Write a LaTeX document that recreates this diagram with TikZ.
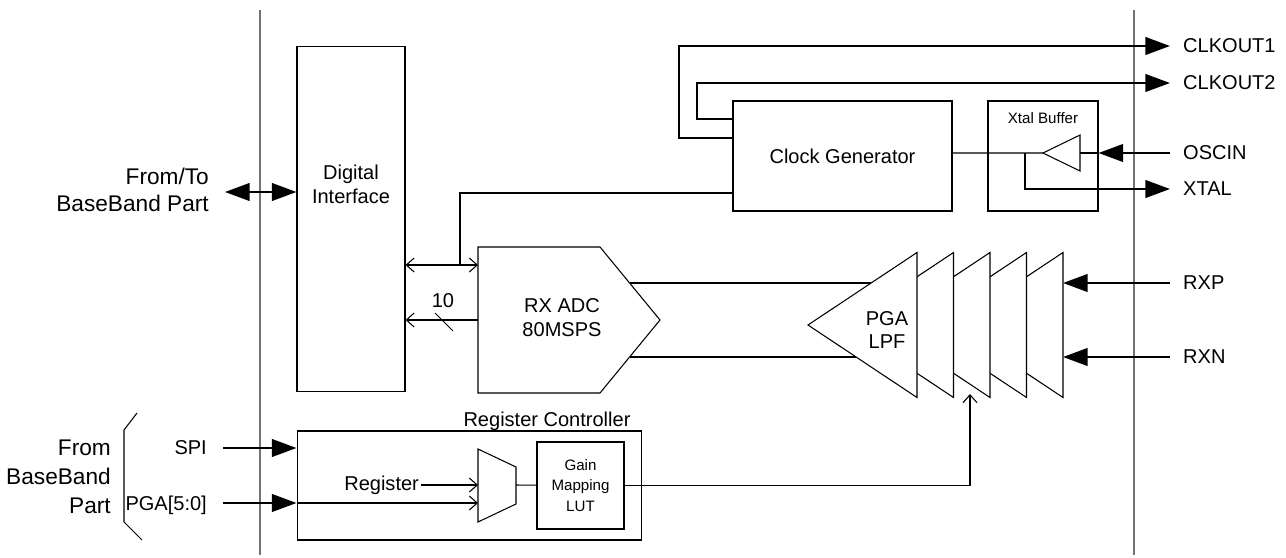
\documentclass[tikz,border=0pt]{standalone}
\usepackage{fontspec}
\setmainfont{Liberation Sans}
\usetikzlibrary{arrows.meta}

\begin{document}
\begin{tikzpicture}[x=0.02cm,y=-0.02cm,
		font=\fontsize{11.4}{13.6}\selectfont,
		wire/.style={line width=0.6pt},
		bus/.style={line width=1.3pt},
		big/.style={-{Triangle[length=14pt,width=10pt]}},
		bigb/.style={{Triangle[length=14pt,width=10pt]}-{Triangle[length=14pt,width=10pt]}},
		open/.style={-{Straight Barb[length=4.5pt,width=8pt]}},
		openb/.style={{Straight Barb[length=4.5pt,width=8pt]}-{Straight Barb[length=4.5pt,width=8pt]}},
		blk/.style={draw,line width=0.6pt,inner sep=0pt},
		small/.style={font=\fontsize{8.6}{11.5}\selectfont},
		side/.style={align=right,anchor=east,font=\fontsize{12.9}{15}\selectfont},
		border/.style={draw=black!55,line width=0.8pt}]
	\useasboundingbox (0,0) rectangle (1286,558);
	% chip borders
	\draw[border] (260,10) -- (260,555);
	\draw[border] (1134,10) -- (1134,555);

	% digital part
	\node[blk,minimum width=2.16cm,minimum height=6.92cm] (di) at (351,219) {};
	\node[align=center] (dit) at (351,184) {Digital\\Interface};
	\node[blk,minimum width=4.38cm,minimum height=2.2cm] (clk) at (842.5,156) {Clock Generator};
	\node[blk,minimum width=2.2cm,minimum height=2.2cm] (xb) at (1043,156) {};
	\node[small] (xbt) at (1043,118) {Xtal Buffer};
	\draw[wire] (1043,153) coordinate (bt) -- (1080,135) -- (1080,171) -- cycle;
	\coordinate (bin) at (1080,153);

	% adc
	\draw[wire] (478,247) -- (600,247) -- (660,320) -- (600,393) -- (478,393) -- cycle;
	\node[align=center] (adc) at (562,318) {RX ADC\\80MSPS};
	\coordinate (adcin) at (478,265);
	\coordinate (adcout) at (478,320);
	\coordinate (adcp) at (630,283);
	\coordinate (adcn) at (630,357);

	% pga / lpf stages
	\draw[wire] (adcp) -- (880,283);
	\draw[wire] (adcn) -- (880,357);
	\foreach \k in {4,...,0}
		\draw[wire,fill=white] ({808+36.5*\k},325) -- ({917+36.5*\k},252.5) -- ({917+36.5*\k},397.5) -- cycle;
	\node[align=center] (pga) at (887,330) {PGA\\LPF};
	\coordinate (pgap) at (1063,283);
	\coordinate (pgan) at (1063,357);
	\coordinate (pgac) at (970,394);

	% register controller
	\node[blk,minimum width=6.9cm,minimum height=2.18cm] (reg) at (469.5,485.5) {};
	\node (regt) at (547,421) {Register Controller};
	\draw[wire] (478,449) -- (516,467) -- (516,504) -- (478,522) -- cycle;
	\coordinate (muxa) at (478,485);
	\coordinate (muxb) at (478,503);
	\coordinate (muxo) at (516,485);
	\node[blk,small,align=center,minimum width=1.74cm,minimum height=1.74cm] (lut) at (580.5,485.5) {Gain\\Mapping\\LUT};
	\node[anchor=east,inner sep=1pt] (regin) at (421,485) {Register};

	% outside
	\node[side] (fb) at (215,190) {From/To\\BaseBand Part};
	\coordinate (fbt) at (225,192);
	\draw[wire] (137,413) -- (124,430) -- (124,522) -- (142,540);
	\node[side,font=\fontsize{12.9}{16.4}\selectfont] (frm) at (117,477) {From\\BaseBand\\Part};
	\node[anchor=east] (spi) at (213,448) {SPI};
	\node[anchor=east] (pgab) at (213,505) {PGA[5:0]};
	\coordinate (spis) at (223,448);
	\coordinate (pgas) at (223,503);
	\foreach \n/\y/\t in {co1/46/CLKOUT1,co2/83/CLKOUT2,osc/153/OSCIN,xt/189/XTAL,rxp/283/RXP,rxn/357/RXN}{
		\coordinate (\n) at (1170,\y);
		\node[anchor=west] (\n t) at (1177,\y) {\t};
	}

	% connections
	\draw[bus,bigb] (fbt) -- (fbt -| di.west);
	\draw[bus,big] ([yshift=0.36cm]clk.west) -| (679,46) -- (co1);
	\draw[bus,big] ([yshift=0.74cm]clk.west) -| (697,83) -- (co2);
	\draw[wire] ([yshift=0.06cm]clk.east) -- (bt);
	\draw[wire] (1025,153) |- (xb.east |- xt);
	\draw[bus,big] (xb.east |- xt) -- (xt);
	\draw[bus,big] (osc) -- (xb.east |- osc);
	\draw[wire] (xb.east |- osc) -- (bin);
	\draw[wire] ([yshift=-0.74cm]clk.west) -| (460,265);
	\draw[wire,openb] (adcin -| di.east) -- (adcin);
	\draw[wire,open] (adcout) -- (adcout -| di.east);
	\draw[wire] (435,313) -- (453,331);
	\node (bw) at (443,301) {10};
	\draw[bus,big] (rxp) -- (pgap);
	\draw[bus,big] (rxn) -- (pgan);
	\draw[bus,big] (spis) -- (spis -| reg.west);
	\draw[bus,big] (pgas) -- (pgas -| reg.west);
	\draw[wire,open] (pgas -| reg.west) -- (muxb);
	\draw[wire,open] (regin) -- (muxa);
	\draw[wire] (muxo) -- (lut);
	\draw[wire,open] (lut) -| (pgac);
\end{tikzpicture}
\end{document}
